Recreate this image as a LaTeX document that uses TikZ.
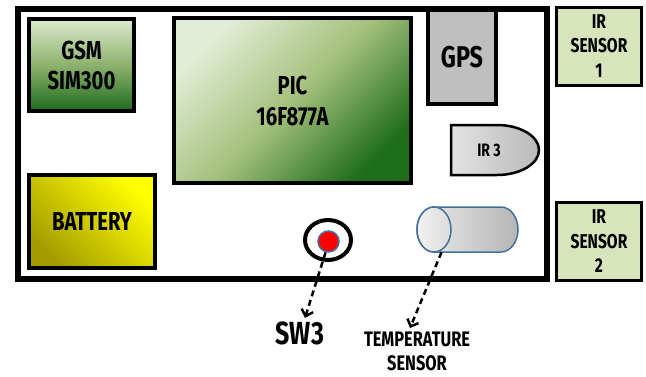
\documentclass[tikz,border=0pt]{standalone}
\usepackage{fontspec}
\setmainfont{Fira Sans}[FakeStretch=0.78]
\usetikzlibrary{shapes.geometric, arrows.meta}
\definecolor{gsmtop}{HTML}{DCE9CF}
\definecolor{gsmmid}{HTML}{8DB26C}
\definecolor{gsmbot}{HTML}{1E6B1E}
\definecolor{pictl}{HTML}{E3ECD7}
\definecolor{picmid}{HTML}{A4C07C}
\definecolor{picbr}{HTML}{1F6E1A}
\definecolor{gpsgray}{HTML}{BFBFBF}
\definecolor{irgreen}{HTML}{D8E4BC}
\definecolor{battop}{HTML}{FFFF00}
\definecolor{batbot}{HTML}{A39C00}
\definecolor{cylblue}{HTML}{41719C}
\newcommand{\fsz}[1]{\bfseries\fontsize{#1}{#1}\selectfont}
\begin{document}
\begin{tikzpicture}[x=1pt, y=-1pt,
        modbox/.style={draw, line width=4pt, align=center, inner sep=0pt, font=\fsz{26}},
        irbox/.style={draw, line width=3pt, fill=irgreen, align=center, inner sep=0pt,
                minimum width=85pt, minimum height=78pt, font={\fsz{20}\baselineskip=24.5pt}},
        dasharr/.style={line width=2.5pt, dash pattern=on 6pt off 4pt,
                -{Straight Barb[length=6pt,width=12pt]}}
        ]
        \useasboundingbox (0,0) rectangle (646,376);

        % board outline
        \node[draw, line width=6pt, minimum width=529pt, minimum height=270pt] (board) at (282.5,143.5) {};

        % modules on the board
        \node[modbox, minimum width=105pt, minimum height=92pt, top color=gsmtop, bottom color=gsmbot,
                middle color=gsmmid, font={\fsz{26}\baselineskip=30pt}] (gsm) at (81.5,65) {GSM\\SIM300};
        \node[modbox, minimum width=237pt, minimum height=165pt, top color=pictl, bottom color=picbr,
                middle color=picmid, shading angle=45, font={\fsz{26}\baselineskip=31pt}] (pic) at (292.5,100.5) {PIC\\16F877A};
        \node[modbox, minimum width=68pt, minimum height=94pt, fill=gpsgray, font=\fsz{30}] (gps) at (462,57) {GPS};
        \node[modbox, minimum width=126pt, minimum height=93pt, top color=battop, bottom color=batbot,
                shading angle=-45] (bat) at (92,221.5) {BATTERY};

        % IR 3 (half-round front)
        \draw[line width=2.5pt, left color=gray!22, right color=gray!55]
                (451,125) -- (497,125) .. controls (520,125) and (539,136) .. (539,150)
                .. controls (539,164) and (520,175) .. (497,175) -- (451,175) -- cycle;
        \node[font=\fsz{18}] (ir3) at (489,150) {IR 3};

        % side sensors
        \node[irbox] (irone) at (599,46) {IR\\SENSOR\\1};
        \node[irbox] (irtwo) at (599,241.5) {IR\\SENSOR\\2};

        % switch SW3
        \node[ellipse, draw, line width=4pt, minimum width=46pt, minimum height=40pt] (swring) at (328,240) {};
        \node[circle, draw=cylblue, line width=1.5pt, fill=red, inner sep=0pt, minimum size=21pt] (swdot) at (328.5,241.5) {};

        % temperature sensor (lying cylinder)
        \node[minimum width=101pt, minimum height=45pt] (tsens) at (467.5,229.5) {};
        \draw[cylblue, line width=1.5pt, left color=gray!15, right color=gray!58]
                (434,207) -- (501,207) .. controls (510.4,207) and (518,217.1) .. (518,229.5)
                .. controls (518,241.9) and (510.4,252) .. (501,252) -- (434,252)
                .. controls (424.6,252) and (417,241.9) .. (417,229.5)
                .. controls (417,217.1) and (424.6,207) .. cycle;
        \draw[cylblue, line width=1.5pt, left color=gray!10, right color=gray!28]
                (434,229.5) ellipse [x radius=17, y radius=22.5];

        % labels below the board
        \node[font=\fsz{32}] (swlbl) at (300,333) {SW3};
        \node[align=center, font={\fsz{21}\baselineskip=24pt}] (templbl) at (417,351) {TEMPERATURE\\SENSOR};

        \draw[dasharr] (swdot.255) -- ([xshift=5pt]swlbl.north);
        \draw[dasharr] ([xshift=-26pt]tsens.south) -- ([xshift=-7pt]templbl.north);
\end{tikzpicture}
\end{document}
